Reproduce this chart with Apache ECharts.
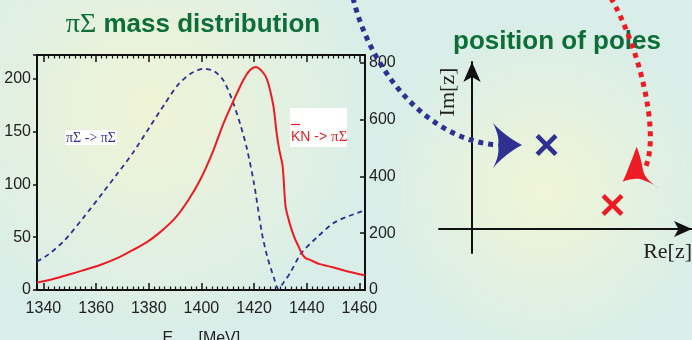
<!DOCTYPE html>
<html>
<head>
<meta charset="utf-8">
<script src="https://cdn.jsdelivr.net/npm/echarts@6/dist/echarts.min.js"></script>
<style>
  html, body { margin: 0; padding: 0; }
  #chart { width: 692px; height: 340px; }
</style>
</head>
<body>
<div id="chart"></div>
<script>
var myChart = echarts.init(document.getElementById('chart'));

// pi Sigma -> pi Sigma (left axis)
var blueEnergy = [1337.5, 1342, 1348, 1355, 1362.5, 1368, 1374, 1380, 1386, 1391, 1396, 1401, 1405, 1408.5,
  1412, 1415, 1417.3, 1420, 1423, 1425, 1427.5, 1429.3, 1431.5, 1433.7, 1438, 1444, 1450, 1455, 1460.5, 1462.2];
var blueValues = [26.8, 34, 47, 68, 92, 110, 130, 153, 176, 194, 205, 209.5, 207, 198,
  178, 155, 134, 101, 54, 32, 12, 1, 8, 16, 35, 50, 63, 69, 74, 75];

// Kbar N -> pi Sigma (right axis)
var redEnergy = [1337.5, 1343, 1349, 1355, 1361.5, 1368, 1374, 1379, 1384, 1390, 1395, 1399.5, 1404.5, 1408,
  1412, 1416, 1418.5, 1420.7, 1423, 1425, 1427.4, 1428.6, 1429.6, 1430.9, 1432, 1433.7, 1435.5, 1437,
  1438.1, 1439.5, 1441.3, 1445, 1450, 1455, 1461.5, 1462.2];
var redValues = [26, 37, 53, 69, 88, 112, 141, 167, 201, 253, 316, 387, 490, 577,
  662, 740, 774, 785, 770, 740, 646, 552, 494, 435, 294, 230, 182, 152,
  129, 113, 106, 91, 80, 67, 53, 52];

// poles in the complex plane (arbitrary units)
var poleRe = [2.26, 4.26];
var poleIm = [3.5, 1.0];
var poleColors = ['#2e3192', '#ed1c24'];

var xRange = [1337.5, 1462.2];
var tickRange = [1340, 1460];

function zip(a, b) {
  return a.map(function (v, i) { return [v, b[i]]; });
}

// polygon points along a closed chain of quadratic curves: start, then [ctrl, end] pairs
function quadShape(start, segs) {
  var pts = [start];
  var p = start;
  segs.forEach(function (s) {
    for (var k = 1; k <= 8; k++) {
      var t = k / 8, u = 1 - t;
      pts.push([u * u * p[0] + 2 * u * t * s[0][0] + t * t * s[1][0],
                u * u * p[1] + 2 * u * t * s[0][1] + t * t * s[1][1]]);
    }
    p = s[1];
  });
  return pts;
}

var sans = 'Liberation Sans';
var serif = 'Liberation Serif';
var ink = '#111';
var crossPath = 'path://M0,3L3,0L10,7L17,0L20,3L13,10L20,17L17,20L10,13L3,20L0,17L7,10Z';

function frameAxis(pos) {
  return {
    type: 'value', gridIndex: 0, position: pos, min: xRange[0], max: xRange[1],
    axisLine: { onZero: false, lineStyle: { color: ink, width: 2 } },
    axisTick: { show: false }, axisLabel: { show: false }, splitLine: { show: false }
  };
}

function tickAxis(pos, labels) {
  var ax = {
    type: 'value', gridIndex: 1, position: pos, min: tickRange[0], max: tickRange[1], interval: 20,
    axisLine: { show: false, onZero: false },
    axisTick: { show: true, inside: true, length: 7, lineStyle: { color: ink, width: 1.5 } },
    minorTick: { show: true, splitNumber: 10, length: 3.5, lineStyle: { color: ink, width: 1.2 } },
    axisLabel: { show: labels, margin: 11, fontFamily: sans, fontSize: 16, color: '#222',
      formatter: function (v) { return String(v); } },
    splitLine: { show: false }
  };
  if (labels) {
    ax.name = '{e|E}{s|c.m.}{e| [MeV]}';
    ax.nameLocation = 'middle';
    ax.nameGap = 38;
    ax.nameTextStyle = { rich: {
      e: { fontFamily: sans, fontSize: 16, color: '#222' },
      s: { fontFamily: sans, fontSize: 11, color: '#222', padding: [10, 0, 0, 0] } } };
  }
  return ax;
}

var option = {
  animation: false,
  graphic: [
    { type: 'rect', z: -100, shape: { x: 0, y: 0, width: 692, height: 340 }, style: { fill: '#d9eee9' } },
    { type: 'circle', z: -99, shape: { cx: 150, cy: 110, r: 230 },
      style: { fill: { type: 'radial', x: 0.5, y: 0.5, r: 0.5, global: false,
        colorStops: [{ offset: 0, color: 'rgba(240,244,214,1)' }, { offset: 1, color: 'rgba(240,244,214,0)' }] } } },
    { type: 'circle', z: -99, shape: { cx: 545, cy: 190, r: 170 },
      style: { fill: { type: 'radial', x: 0.5, y: 0.5, r: 0.5, global: false,
        colorStops: [{ offset: 0, color: 'rgba(240,245,214,1)' }, { offset: 1, color: 'rgba(240,245,214,0)' }] } } },
    // titles
    { type: 'text', z: 10, x: 193, y: 25,
      style: { text: '{g|πΣ} mass distribution', align: 'center', verticalAlign: 'middle',
        font: 'bold 26px ' + sans, fill: '#0e6e38',
        rich: { g: { fontFamily: serif, fontSize: 28, fontWeight: 'normal', fill: '#0e6e38' } } } },
    { type: 'text', z: 10, x: 557, y: 42,
      style: { text: 'position of poles', align: 'center', verticalAlign: 'middle',
        font: 'bold 26px ' + sans, fill: '#0e6e38' } },
    // curve labels
    { type: 'rect', z: 10, shape: { x: 65, y: 130, width: 52, height: 15 }, style: { fill: '#fff' } },
    { type: 'text', z: 11, x: 66, y: 138,
      style: { text: 'πΣ -> πΣ', align: 'left', verticalAlign: 'middle', font: '14px ' + serif, fill: '#2e3192' } },
    { type: 'rect', z: 10, shape: { x: 290, y: 108, width: 57, height: 39 }, style: { fill: '#fff' } },
    { type: 'line', z: 11, shape: { x1: 291, y1: 124.5, x2: 300, y2: 124.5 }, style: { stroke: '#ed1c24', lineWidth: 1.2 } },
    { type: 'text', z: 11, x: 291, y: 137,
      style: { text: 'KN -> {g|πΣ}', align: 'left', verticalAlign: 'middle', font: '14px ' + sans, fill: '#ed1c24',
        rich: { g: { fontFamily: serif, fontSize: 15, fill: '#ed1c24' } } } },
    // complex plane labels
    { type: 'text', z: 10, x: 448, y: 92, rotation: Math.PI / 2,
      style: { text: 'Im[z]', align: 'center', verticalAlign: 'middle', font: '22px ' + serif, fill: '#222' } },
    { type: 'text', z: 10, x: 692, y: 252,
      style: { text: 'Re[z]', align: 'right', verticalAlign: 'middle', font: '22px ' + serif, fill: '#222' } },
    // dotted trajectories
    { type: 'bezierCurve', z: 12,
      shape: { x1: 353, y1: -2, cpx1: 372, cpy1: 75, cpx2: 430, cpy2: 140, x2: 497, y2: 145 },
      style: { stroke: '#2e3192', lineWidth: 5, lineDash: [5, 5], fill: null } },
    { type: 'polygon', z: 12,
      shape: { points: quadShape([522, 145], [[[505, 136], [493, 123]], [[500, 137], [498, 145]],
        [[500, 155], [493, 168]], [[505, 154], [522, 145]]]) },
      style: { fill: '#2e3192' } },
    { type: 'bezierCurve', z: 12,
      shape: { x1: 611, y1: -2, cpx1: 638, cpy1: 45, cpx2: 660, cpy2: 130, x2: 646, y2: 166 },
      style: { stroke: '#ed1c24', lineWidth: 5, lineDash: [5, 5], fill: null } },
    { type: 'polygon', z: 12,
      shape: { points: quadShape([636.7, 146.7], [[[628, 170], [622.7, 181.7]], [[632, 178], [640, 179]],
        [[650, 182], [659.3, 188.3]], [[645, 180], [643, 170]], [[641, 158], [636.7, 146.7]]]) },
      style: { fill: '#ed1c24' } }
  ],
  grid: [
    { left: 37, right: 327, top: 55, bottom: 50, outerBoundsMode: 'none', containLabel: false },
    { left: 43.4, right: 332.6, top: 55, bottom: 50, outerBoundsMode: 'none', containLabel: false },
    { left: 439, right: 0, top: 62, bottom: 87, outerBoundsMode: 'none', containLabel: false }
  ],
  xAxis: [
    frameAxis('bottom'),
    frameAxis('top'),
    tickAxis('bottom', true),
    tickAxis('top', false),
    {
      type: 'value', gridIndex: 2, min: -1, max: 6.67,
      axisLine: { onZero: true, symbol: ['none', 'arrow'], symbolSize: [12, 18],
        lineStyle: { color: ink, width: 2 } },
      axisTick: { show: false }, axisLabel: { show: false }, splitLine: { show: false }
    }
  ],
  yAxis: [
    {
      type: 'value', gridIndex: 0, position: 'left', min: 0, max: 222.5, interval: 50,
      axisLine: { show: true, onZero: false, lineStyle: { color: ink, width: 2 } },
      axisTick: { show: true, inside: false, length: 4, lineStyle: { color: ink, width: 1.5 } },
      axisLabel: { margin: 6, fontFamily: sans, fontSize: 16, color: '#222',
        formatter: function (v) { return v % 50 === 0 ? String(v) : ''; } },
      splitLine: { show: false }
    },
    {
      type: 'value', gridIndex: 0, position: 'right', min: 0, max: 827, interval: 200,
      axisLine: { show: true, onZero: false, lineStyle: { color: ink, width: 2 } },
      axisTick: { show: true, inside: true, length: 5, lineStyle: { color: ink, width: 1.5 } },
      axisLabel: { margin: 4, fontFamily: sans, fontSize: 16, color: '#222',
        formatter: function (v) { return v % 200 === 0 ? String(v) : ''; } },
      splitLine: { show: false }
    },
    { type: 'value', gridIndex: 1, min: 0, max: 1, show: false },
    {
      type: 'value', gridIndex: 2, min: -1, max: 6.96,
      axisLine: { onZero: true, symbol: ['none', 'arrow'], symbolSize: [13, 20],
        lineStyle: { color: ink, width: 2 } },
      axisTick: { show: false }, axisLabel: { show: false }, splitLine: { show: false }
    }
  ],
  series: [
    {
      name: 'πΣ -> πΣ', type: 'line', xAxisIndex: 0, yAxisIndex: 0,
      data: zip(blueEnergy, blueValues), showSymbol: false, smooth: 0.25,
      lineStyle: { color: '#2e3192', width: 1.8, type: [5, 4] }
    },
    {
      name: 'KN -> πΣ', type: 'line', xAxisIndex: 0, yAxisIndex: 1,
      data: zip(redEnergy, redValues), showSymbol: false, smooth: 0.25,
      lineStyle: { color: '#ed1c24', width: 2 }
    },
    {
      name: 'poles', type: 'scatter', xAxisIndex: 4, yAxisIndex: 3,
      symbol: crossPath, symbolSize: 22,
      itemStyle: { opacity: 1 },
      data: poleRe.map(function (re, i) {
        return { value: [re, poleIm[i]], itemStyle: { color: poleColors[i] } };
      })
    }
  ]
};

myChart.setOption(option);
</script>
</body>
</html>
